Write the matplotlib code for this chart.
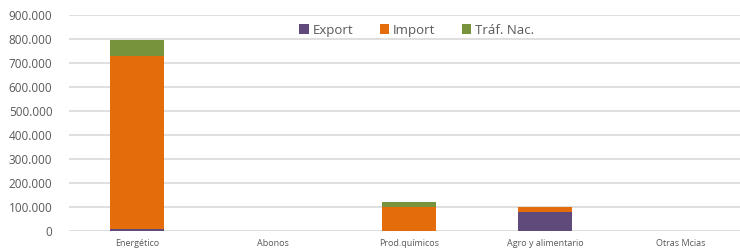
import matplotlib.pyplot as plt
import numpy as np
from matplotlib.ticker import FuncFormatter

plt.rcParams['font.family'] = ['Open Sans', 'DejaVu Sans']

categorias = ['Energético', 'Abonos', 'Prod.químicos', 'Agro y alimentario', 'Otras Mcias']
export = [6000, 0, 0, 78000, 0]
importacion = [723000, 0, 100000, 22000, 0]
traf_nac = [67000, 0, 18000, 0, 0]

col_export = '#604A7B'
col_import = '#E46C0A'
col_traf = '#77933C'

fig = plt.figure(figsize=(7.40, 2.49), dpi=100)
ax = fig.add_axes([69 / 740, (249 - 230.5) / 249, (740 - 69) / 740, (230.5 - 15) / 249])

x = np.arange(len(categorias))
w = 0.4
exp = np.array(export)
imp = np.array(importacion)
tra = np.array(traf_nac)
ax.bar(x, exp, w, color=col_export, label='Export', zorder=3)
ax.bar(x, imp, w, bottom=exp, color=col_import, label='Import', zorder=3)
ax.bar(x, tra, w, bottom=exp + imp, color=col_traf, label='Tráf. Nac.', zorder=3)

ax.set_ylim(0, 900000)
ax.set_xlim(-0.5, (740 - 137) / 136)
ax.set_yticks(np.arange(0, 900001, 100000))
ax.yaxis.set_major_formatter(FuncFormatter(lambda v, p: f'{int(v):,}'.replace(',', '.')))
ax.grid(axis='y', color='#D9D9D9', linewidth=1.2, zorder=0)
ax.set_xticks(x)
ax.set_xticklabels(categorias, fontsize=6.5, color='#595959')
ax.tick_params(axis='y', labelsize=8.5, labelcolor='#595959', length=0, pad=12)
ax.tick_params(axis='x', length=0, pad=6)
for s in ax.spines.values():
    s.set_visible(False)

leg = ax.legend(loc='center', bbox_to_anchor=(0.518, 0.93), ncol=3, frameon=False,
                fontsize=9.5, handlelength=0.7, handleheight=0.7, handletextpad=0.3, columnspacing=2.0)
for t in leg.get_texts():
    t.set_color('#595959')

fig.savefig('out.png', dpi=100)
